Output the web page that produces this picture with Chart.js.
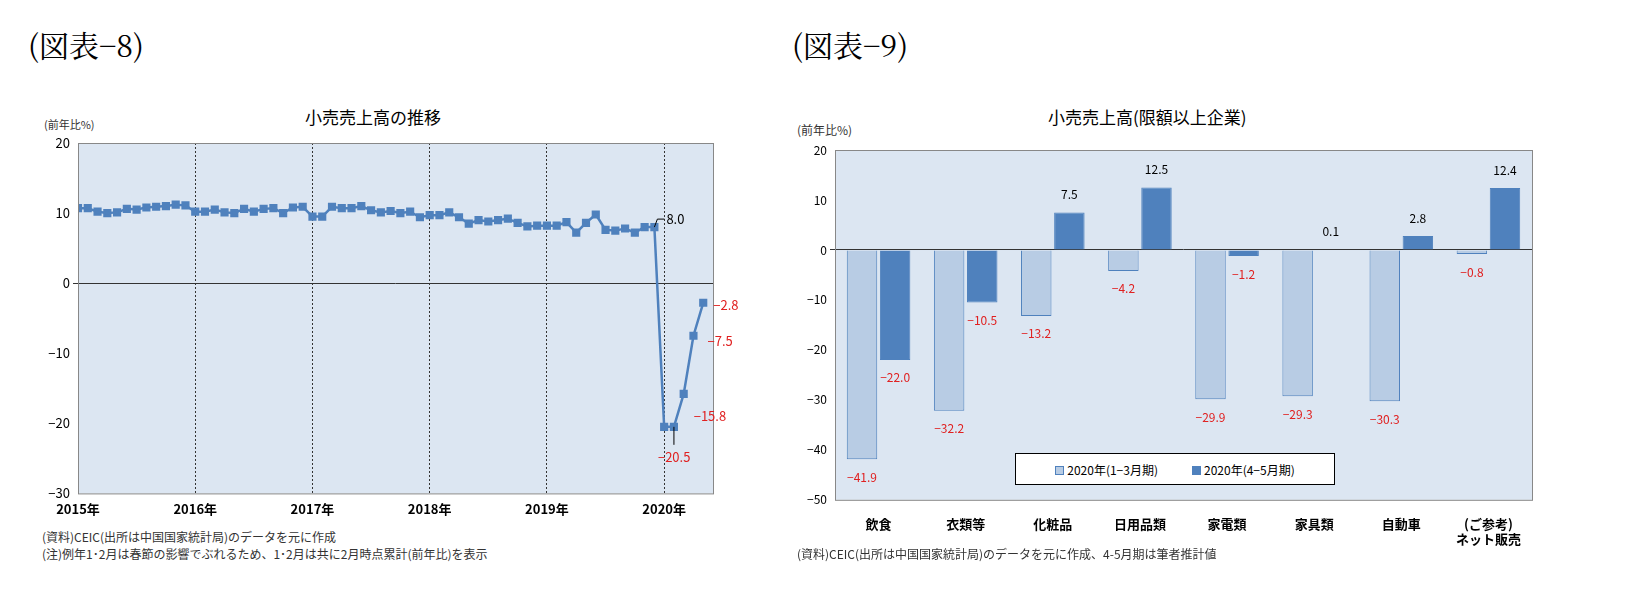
<!DOCTYPE html>
<html><head><meta charset="utf-8">
<script src="https://cdn.jsdelivr.net/npm/chart.js@4"></script>
<style>
body{margin:0;background:#fff;font-family:"Noto Sans CJK JP",sans-serif;width:1645px;height:610px;position:relative;overflow:hidden}
.t{position:absolute;white-space:nowrap}
.fig{font-family:"Noto Serif CJK JP","Liberation Serif",serif;font-size:30px;top:22px}
.ttl{font-size:17px;top:104px}
.unit{font-size:11px;color:#333}
.note{font-size:12px;color:#333;line-height:17px}
#c1{position:absolute;left:0;top:130px}
#c2{position:absolute;left:788px;top:135px}
.leg{position:absolute;left:1015px;top:453px;width:318px;height:30px;border:1px solid #000;background:#fff;font-size:12px;display:flex;align-items:center;justify-content:center;gap:34px}
.sw{display:inline-block;width:7px;height:7px;margin-right:3px;border:1px solid #4f81bd}
</style></head><body>
<div class="t fig" style="left:28px">(図表−8)</div>
<div class="t fig" style="left:792px">(図表−9)</div>
<div class="t ttl" style="left:305px">小売売上高の推移</div>
<div class="t ttl" style="left:1048px">小売売上高(限額以上企業)</div>
<div class="t unit" style="left:44px;top:116px">(前年比%)</div>
<div class="t unit" style="left:797px;top:121px;font-size:12px">(前年比%)</div>
<canvas id="c1" width="770" height="395"></canvas>
<canvas id="c2" width="750" height="420"></canvas>
<div class="leg"><span><span class="sw" style="background:#b8cce4"></span>2020年(1−3月期)</span><span><span class="sw" style="background:#4f81bd"></span>2020年(4−5月期)</span></div>
<div class="t note" style="left:42px;top:528px">(資料)CEIC(出所は中国国家統計局)のデータを元に作成<br>(注)例年1･2月は春節の影響でぶれるため、1･2月は共に2月時点累計(前年比)を表示</div>
<div class="t note" style="left:797px;top:545px">(資料)CEIC(出所は中国国家統計局)のデータを元に作成、4-5月期は筆者推計値</div>
<script>
const retail = [
  10.7,10.7,10.2,10.0,10.1,10.6,10.5,10.8,10.9,11.0,11.2,11.1,
  10.2,10.2,10.5,10.1,10.0,10.6,10.2,10.6,10.7,10.0,10.8,10.9,
  9.5,9.5,10.9,10.7,10.7,11.0,10.4,10.1,10.3,10.0,10.2,9.4,
  9.7,9.7,10.1,9.4,8.5,9.0,8.8,9.0,9.2,8.6,8.1,8.2,
  8.2,8.2,8.7,7.2,8.6,9.8,7.6,7.5,7.8,7.2,8.0,8.0,
  -20.5,-20.5,-15.8,-7.5,-2.8
];
const yearLabels = ['2015年','2016年','2017年','2018年','2019年','2020年'];
const categories = ['飲食','衣類等','化粧品','日用品類','家電類','家具類','自動車',['(ご参考)','ネット販売']];
const q1 = [-41.9,-32.2,-13.2,-4.2,-29.9,-29.3,-30.3,-0.8];
const aprMay = [-22.0,-10.5,7.5,12.5,-1.2,0.1,2.8,12.4];

const fmt = v => v < 0 ? '−' + (-v).toFixed(1) : v.toFixed(1);
const bg = {id:'bg',beforeDraw(c){const a=c.chartArea,x=c.ctx;x.save();x.fillStyle='#dce6f2';x.fillRect(a.left,a.top,a.width,a.height);x.restore();},
  afterDatasetsDraw(c){const a=c.chartArea,x=c.ctx;x.save();x.strokeStyle='#888';x.lineWidth=1;x.strokeRect(a.left+.5,a.top+.5,a.width,a.height);x.restore();}};
const font = {family:'"Noto Sans CJK JP", sans-serif'};

const lineLabels = {id:'ll',afterDatasetsDraw(c){
  const m=c.getDatasetMeta(0).data,x=c.ctx;x.save();x.font='13px "Noto Sans CJK JP"';x.textBaseline='middle';
  let p=m[59];x.strokeStyle='#000';x.beginPath();x.moveTo(p.x,p.y);x.lineTo(p.x+3,p.y-8);x.lineTo(p.x+10,p.y-8);x.stroke();
  x.fillStyle='#000';x.fillText(fmt(retail[59]),p.x+12,p.y-8);
  x.fillStyle='#e02020';
  p=m[61];x.beginPath();x.moveTo(p.x,p.y);x.lineTo(p.x,p.y+18);x.stroke();
  x.fillText(fmt(retail[61]),p.x-16,p.y+30);
  p=m[62];x.fillText(fmt(retail[62]),p.x+10,p.y+22);
  p=m[63];x.fillText(fmt(retail[63]),p.x+14,p.y+5);
  p=m[64];x.fillText(fmt(retail[64]),p.x+10,p.y+2);
  x.restore();}};

new Chart(document.getElementById('c1'),{type:'line',
  data:{datasets:[{data:retail.map((v,i)=>({x:i,y:v})),borderColor:'#4f81bd',backgroundColor:'#4f81bd',
    borderWidth:2.5,pointStyle:'rect',pointRadius:4,tension:0}]},
  options:{responsive:false,animation:false,layout:{padding:{left:0,right:57,top:13,bottom:0}},
    plugins:{legend:{display:false},tooltip:{enabled:false}},
    scales:{x:{type:'linear',min:0,max:65,afterBuildTicks(a){a.ticks=[0,12,24,36,48,60].map(v=>({value:v}));},
        ticks:{callback:v=>yearLabels[v/12],font:{...font,size:13,weight:'bold'},color:'#000',maxRotation:0,padding:8},
        grid:{color:'#333',drawTicks:false,lineWidth:c=>c.tick&&c.tick.value>0?1:0},border:{display:false,dash:[2,2]}},
      y:{min:-30,max:20,afterFit(a){a.width=78;},ticks:{stepSize:10,font:{...font,size:13},color:'#000',callback:v=>v<0?'−'+(-v):v},
        grid:{color:c=>c.tick.value===0?'#333':'transparent',drawTicks:true,tickLength:5},border:{display:false}}}},
  plugins:[bg,lineLabels]});

const barLabels = {id:'bl',afterDatasetsDraw(c){
  const x=c.ctx;x.save();x.font='12px "Noto Sans CJK JP"';x.textAlign='center';
  [0,1].forEach(d=>{c.getDatasetMeta(d).data.forEach((b,i)=>{const v=c.data.datasets[d].data[i];
    x.fillStyle=v<0?'#e02020':'#000';x.textBaseline=v<0?'top':'bottom';
    x.fillText(fmt(v),b.x,v<0?b.y+12:b.y-12);});});x.restore();}};

new Chart(document.getElementById('c2'),{type:'bar',
  data:{labels:categories,datasets:[
    {data:q1,backgroundColor:'#b8cce4',borderColor:'#4f81bd',borderWidth:1,categoryPercentage:0.76,barPercentage:0.92},
    {data:aprMay,backgroundColor:'#4f81bd',borderColor:'#4f81bd',borderWidth:1,categoryPercentage:0.76,barPercentage:0.92}]},
  options:{responsive:false,animation:false,layout:{padding:{left:0,right:6,top:15,bottom:0}},
    plugins:{legend:{display:false},tooltip:{enabled:false}},
    scales:{x:{ticks:{font:{...font,size:13,weight:'bold'},color:'#000',padding:8},grid:{display:false},border:{display:false}},
      y:{min:-50,max:20,afterFit(a){a.width=47;},ticks:{stepSize:10,font:{...font,size:12},color:'#000',callback:v=>v<0?'−'+(-v):v},
        grid:{color:c=>c.tick.value===0?'#333':'transparent',tickLength:5},border:{display:false}}}},
  plugins:[bg,barLabels]});
</script>
</body></html>
